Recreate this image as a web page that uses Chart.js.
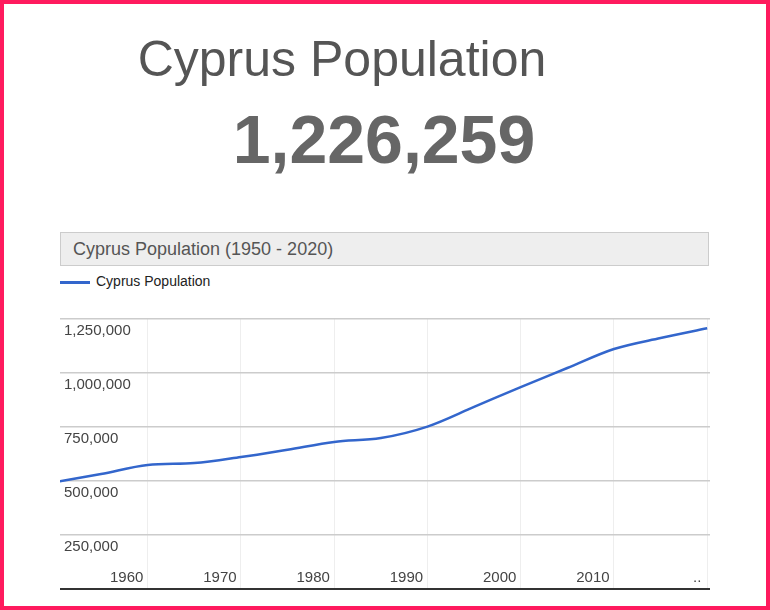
<!DOCTYPE html>
<html><head><meta charset="utf-8">
<script src="https://cdn.jsdelivr.net/npm/chart.js@4"></script>
<style>
body{margin:0;width:770px;height:610px;overflow:hidden;background:#fff;font-family:Arial,"Liberation Sans",sans-serif}
#frame{position:absolute;left:0;top:0;width:762px;height:602px;border:4px solid #ff1a5e}
#t1{position:absolute;left:0;width:684px;top:30px;text-align:center;font-size:50px;color:#555}
#t2{position:absolute;left:0;width:768px;top:100px;text-align:center;font-size:68px;font-weight:bold;color:#666}
#hdr{position:absolute;left:60px;top:232px;background:#eee;border:1px solid #ccc;font-size:18px;color:#555;line-height:32px;padding-left:12px;box-sizing:border-box;width:649px;height:34px}
#leg{position:absolute;left:60px;top:273px;font-size:14px;color:#222}
#leg span{display:inline-block;width:30px;height:3px;background:#3366cc;vertical-align:middle;margin-right:6px}
#wrap{position:absolute;left:60px;top:300px;width:650px;height:295px}
</style></head><body>
<div id="frame"></div>
<div id="t1">Cyprus Population</div>
<div id="t2">1,226,259</div>
<div id="hdr">Cyprus Population (1950 - 2020)</div>
<div id="leg"><span></span>Cyprus Population</div>
<div id="wrap"><canvas id="c"></canvas></div>
<script>
const years=[1950,1955,1960,1965,1970,1975,1980,1985,1990,1995,2000,2005,2010,2015,2020];
const population=[494000,532000,574000,583000,611000,645000,681000,699000,752000,843000,935000,1023000,1111000,1162000,1207000];
const yTicks=[250000,500000,750000,1000000,1250000];
const xTicks=[1960,1970,1980,1990,2000,2010];
const labelPlugin={id:'lbl',afterDraw(ch){
 const c=ch.ctx,y=ch.scales.y,x=ch.scales.x;
 c.save();c.font='15px Arial';c.fillStyle='#444';c.textAlign='left';c.textBaseline='middle';
 yTicks.forEach(v=>c.fillText(v.toLocaleString('en-US'),4,y.getPixelForValue(v)+12));
 c.textAlign='center';
 xTicks.forEach(v=>c.fillText(String(v),x.getPixelForValue(v)-21,y.getPixelForValue(0)-11));
 c.fillText('..',x.getPixelForValue(2020)-10,y.getPixelForValue(0)-11);
 c.restore();}};
new Chart(document.getElementById('c'),{type:'line',
 data:{datasets:[{data:years.map((yr,i)=>({x:yr,y:population[i]})),borderColor:'#3366cc',borderWidth:2.5,pointRadius:0,cubicInterpolationMode:'monotone'}]},
 options:{responsive:true,maintainAspectRatio:false,animation:false,
  layout:{padding:{top:19,bottom:6,left:0,right:0}},
  plugins:{legend:{display:false},tooltip:{enabled:false}},
  scales:{
   x:{type:'linear',min:1950.6,max:2020.3,afterBuildTicks:s=>{s.ticks=[1960,1970,1980,1990,2000,2010,2020].map(v=>({value:v}));},ticks:{display:false},grid:{color:'#eee',drawTicks:false},border:{display:true,color:'#333',width:2}},
   y:{min:0,max:1250000,ticks:{display:false,stepSize:250000},grid:{color:'#ccc',drawTicks:false,lineWidth:1.5},border:{display:false}}
  }},plugins:[labelPlugin]});
</script>
</body></html>
